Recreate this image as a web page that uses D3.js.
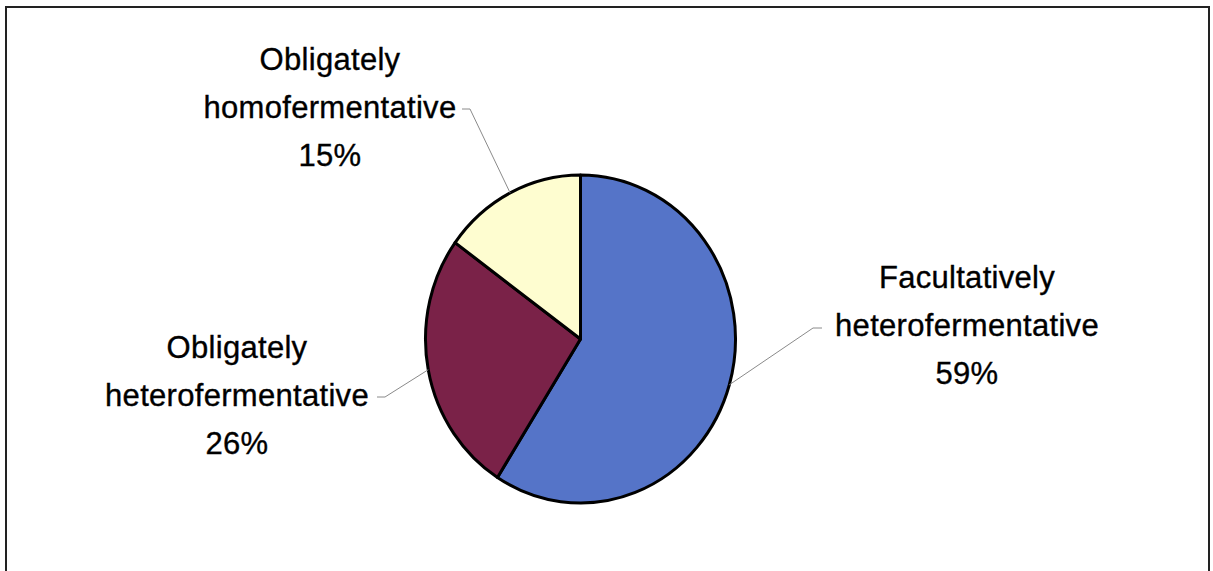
<!DOCTYPE html>
<html>
<head>
<meta charset="utf-8">
<script src="https://cdn.jsdelivr.net/npm/d3@7/dist/d3.min.js"></script>
<style>
  html, body { margin: 0; padding: 0; background: #ffffff; }
  svg { display: block; }
  .lbl { font-family: "Liberation Sans", Arial, sans-serif; font-size: 31px; fill: #000; stroke: #000; stroke-width: 0.35px; letter-spacing: 0.3px; }
</style>
</head>
<body>
<svg id="chart" width="1213" height="571"></svg>
<script>
// Lactic acid bacteria grouped by fermentation type (share of isolates, %)
const categories = ["Facultatively heterofermentative", "Obligately heterofermentative", "Obligately homofermentative"];
const shares = [59, 26, 15];
const percentLabels = ["59%", "26%", "15%"];
const sliceColors = ["#5574c8", "#7a2248", "#fefdd0"];

// Label placement: text centre, first baseline, and where the leader elbow sits
const labelLayout = [
  { cx: 967, y0: 288, textEnd: [822, 328], elbow: [813, 328] },
  { cx: 237, y0: 358, textEnd: [377, 397], elbow: [385, 397] },
  { cx: 330, y0: 70,  textEnd: [462, 109], elbow: [470, 109] }
];

const cx = 580.5, cy = 339, rx = 155, ry = 164;
const lineGap = 48;

const svg = d3.select("#chart");

// Chart area frame
svg.append("rect")
  .attr("x", 6).attr("y", 7)
  .attr("width", 1203).attr("height", 600)
  .attr("fill", "#ffffff")
  .attr("stroke", "#222").attr("stroke-width", 2);

const pie = d3.pie().sort(null).value(d => d)(shares);
const arc = d3.arc().innerRadius(0).outerRadius(rx);

// Pie drawn on a circle, stretched slightly in y
const g = svg.append("g")
  .attr("transform", `translate(${cx},${cy}) scale(1,${ry / rx})`);

g.selectAll("path.slice")
  .data(pie)
  .join("path")
  .attr("class", "slice")
  .attr("d", arc)
  .attr("fill", (d, i) => sliceColors[i])
  .attr("stroke", "#000")
  .attr("stroke-width", 3)
  .attr("stroke-linejoin", "round")
  .attr("vector-effect", "non-scaling-stroke");

// Leader lines from slice mid-edge to label
const toScreen = p => [cx + p[0], cy + p[1] * ry / rx];
pie.forEach((d, i) => {
  const mid = (d.startAngle + d.endAngle) / 2;
  const e = toScreen([Math.sin(mid) * rx, -Math.cos(mid) * rx]);
  const L = labelLayout[i];
  svg.append("path")
    .attr("d", d3.line()([L.textEnd, L.elbow, e]))
    .attr("fill", "none")
    .attr("stroke", "#8a8a8a")
    .attr("stroke-width", 1);
});

// Labels: category name split on two lines plus percentage
categories.forEach((c, i) => {
  const L = labelLayout[i];
  const lines = c.split(" ").concat([percentLabels[i]]);
  const t = svg.append("text")
    .attr("class", "lbl")
    .attr("text-anchor", "middle");
  lines.forEach((s, k) => {
    t.append("tspan")
      .attr("x", L.cx)
      .attr("y", L.y0 + k * lineGap)
      .text(s);
  });
});
</script>
</body>
</html>
